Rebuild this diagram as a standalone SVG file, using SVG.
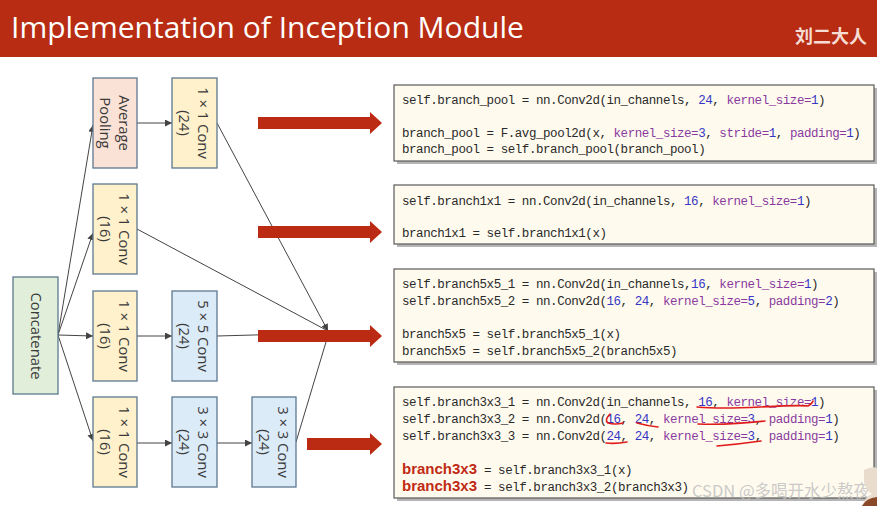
<svg xmlns="http://www.w3.org/2000/svg" width="877" height="506" viewBox="0 0 877 506">
<style>
.node{stroke:#5d7890;stroke-width:1.3}
.pink{fill:#fbe2d6}
.yel{fill:#fff1cc}
.blue{fill:#dcebf8}
.green{fill:#e1efda}
.lbl{font-family:"Open Sans","DejaVu Sans",sans-serif;font-size:14.8px;fill:#3a3a3a;text-anchor:middle}
.con{stroke:#444;stroke-width:1;fill:none}
.code{font-family:"Liberation Mono",monospace;font-size:12.5px;letter-spacing:-0.45px;fill:#2a2a2a;white-space:pre}
.n{fill:#3636c4}
.k{fill:#8a3a9e}
.box{fill:#fffaee;stroke:#5a5a5a;stroke-width:1.2}
.shadow{fill:#b5b5b5}
.big{fill:#bb2b13}
.ul{stroke:#e01b1b;stroke-width:1.6;fill:none;stroke-linecap:round}
.bold{font-family:"Liberation Sans",Arial,sans-serif;font-weight:bold;font-size:15px;fill:#c02a14}
</style>
<defs>
<marker id="ah" viewBox="0 0 10 10" refX="10" refY="5" markerWidth="7" markerHeight="7" markerUnits="userSpaceOnUse" orient="auto">
<path d="M0,0 L10,5 L0,10 Z" fill="#444"/>
</marker>
<path id="bigarrow" d="M0,-6 H112 V-11 L124,0 L112,11 V6 H0 Z"/>
</defs>
<rect width="877" height="506" fill="#ffffff"/>
<g id="title">
<rect x="0" y="0" width="877" height="57" fill="#b72c12"/>
<text x="11" y="38" font-family="'Open Sans','Noto Sans',sans-serif" font-size="30" fill="#ffffff">Implementation of Inception Module</text>
<text x="867" y="43" text-anchor="end" font-family="'Noto Sans CJK SC',sans-serif" font-size="18" font-weight="bold" fill="#f6dcd4">刘二大人</text>
</g>
<g id="connectors">
<line class="con" x1="58" y1="335" x2="93" y2="125" marker-end="url(#ah)"/>
<line class="con" x1="58" y1="335" x2="93" y2="233" marker-end="url(#ah)"/>
<line class="con" x1="58" y1="335" x2="93" y2="336" marker-end="url(#ah)" stroke="#666" stroke-width="1.4"/>
<line class="con" x1="58" y1="335" x2="93" y2="441" marker-end="url(#ah)"/>
<line class="con" x1="137" y1="123" x2="172" y2="123" marker-end="url(#ah)"/>
<line class="con" x1="137" y1="336" x2="172" y2="336" marker-end="url(#ah)"/>
<line class="con" x1="137" y1="443" x2="172" y2="443" marker-end="url(#ah)"/>
<line class="con" x1="217" y1="443" x2="252" y2="443" marker-end="url(#ah)"/>
<line class="con" x1="217" y1="123" x2="328" y2="331" marker-end="url(#ah)"/>
<line class="con" x1="137" y1="229" x2="328" y2="331"/>
<line class="con" x1="217" y1="336" x2="328" y2="333" stroke="#888" stroke-width="1.4"/>
<line class="con" x1="296" y1="442" x2="329" y2="332"/>
</g>
<g id="concatenate">
<rect class="node green" x="13" y="277" width="45" height="117"/>
<text class="lbl" transform="translate(35.5,336) rotate(90)" y="5">Concatenate</text>
</g>
<g id="avgpool">
<rect class="node pink" x="93" y="78" width="44" height="90"/>
<text class="lbl" transform="translate(115,123) rotate(90)"><tspan x="0" y="-4">Average</tspan><tspan x="0" y="15">Pooling</tspan></text>
</g>
<g id="conv1x1_24">
<rect class="node yel" x="172" y="78" width="45" height="90"/>
<text class="lbl" transform="translate(194.5,123) rotate(90)"><tspan x="0" y="-3.5">1 × 1 Conv</tspan><tspan x="0" y="15.5">(24)</tspan></text>
</g>
<g id="conv1x1_16a">
<rect class="node yel" x="93" y="184" width="44" height="90"/>
<text class="lbl" transform="translate(115,229) rotate(90)"><tspan x="0" y="-3.5">1 × 1 Conv</tspan><tspan x="0" y="15.5">(16)</tspan></text>
</g>
<g id="conv1x1_16b">
<rect class="node yel" x="93" y="291" width="44" height="90"/>
<text class="lbl" transform="translate(115,336) rotate(90)"><tspan x="0" y="-3.5">1 × 1 Conv</tspan><tspan x="0" y="15.5">(16)</tspan></text>
</g>
<g id="conv5x5">
<rect class="node blue" x="172" y="291" width="45" height="90"/>
<text class="lbl" transform="translate(194.5,336) rotate(90)"><tspan x="0" y="-3.5">5 × 5 Conv</tspan><tspan x="0" y="15.5">(24)</tspan></text>
</g>
<g id="conv1x1_16c">
<rect class="node yel" x="93" y="397" width="44" height="90"/>
<text class="lbl" transform="translate(115,442) rotate(90)"><tspan x="0" y="-3.5">1 × 1 Conv</tspan><tspan x="0" y="15.5">(16)</tspan></text>
</g>
<g id="conv3x3a">
<rect class="node blue" x="172" y="397" width="45" height="90"/>
<text class="lbl" transform="translate(194.5,442) rotate(90)"><tspan x="0" y="-3.5">3 × 3 Conv</tspan><tspan x="0" y="15.5">(24)</tspan></text>
</g>
<g id="conv3x3b">
<rect class="node blue" x="252" y="397" width="44" height="90"/>
<text class="lbl" transform="translate(274,442) rotate(90)"><tspan x="0" y="-3.5">3 × 3 Conv</tspan><tspan x="0" y="15.5">(24)</tspan></text>
</g>
<g id="bigarrows" class="big">
<use href="#bigarrow" x="258" y="123"/>
<use href="#bigarrow" x="258" y="232"/>
<use href="#bigarrow" x="258" y="336"/>
<path d="M307,438 H370 V433 L382,444 L370,455 V450 H307 Z"/>
</g>
<g id="code1">
<rect class="shadow" x="397" y="88" width="480" height="76"/>
<rect class="box" x="394" y="85" width="480" height="76"/>
<text class="code" x="402" y="104">self.branch_pool = nn.Conv2d(in_channels, <tspan class="n">24</tspan>, <tspan class="k">kernel_size=</tspan><tspan class="n">1</tspan>)</text>
<text class="code" x="402" y="137">branch_pool = F.avg_pool2d(x, <tspan class="k">kernel_size=</tspan><tspan class="n">3</tspan>, <tspan class="k">stride=</tspan><tspan class="n">1</tspan>, <tspan class="k">padding=</tspan><tspan class="n">1</tspan>)</text>
<text class="code" x="402" y="153">branch_pool = self.branch_pool(branch_pool)</text>
</g>
<g id="code2">
<rect class="shadow" x="397" y="188" width="480" height="59"/>
<rect class="box" x="394" y="185" width="480" height="59"/>
<text class="code" x="402" y="205">self.branch1x1 = nn.Conv2d(in_channels, <tspan class="n">16</tspan>, <tspan class="k">kernel_size=</tspan><tspan class="n">1</tspan>)</text>
<text class="code" x="402" y="237">branch1x1 = self.branch1x1(x)</text>
</g>
<g id="code3">
<rect class="shadow" x="397" y="272" width="480" height="93"/>
<rect class="box" x="394" y="269" width="480" height="93"/>
<text class="code" x="402" y="288">self.branch5x5_1 = nn.Conv2d(in_channels,<tspan class="n">16</tspan>, <tspan class="k">kernel_size=</tspan><tspan class="n">1</tspan>)</text>
<text class="code" x="402" y="305">self.branch5x5_2 = nn.Conv2d(<tspan class="n">16</tspan>, <tspan class="n">24</tspan>, <tspan class="k">kernel_size=</tspan><tspan class="n">5</tspan>, <tspan class="k">padding=</tspan><tspan class="n">2</tspan>)</text>
<text class="code" x="402" y="338">branch5x5 = self.branch5x5_1(x)</text>
<text class="code" x="402" y="355">branch5x5 = self.branch5x5_2(branch5x5)</text>
</g>
<g id="code4">
<rect class="shadow" x="397" y="390" width="480" height="111"/>
<rect class="box" x="394" y="387" width="480" height="111"/>
<text class="code" x="402" y="406">self.branch3x3_1 = nn.Conv2d(in_channels, <tspan class="n">16</tspan>, <tspan class="k">kernel_size=</tspan><tspan class="n">1</tspan>)</text>
<text class="code" x="402" y="423">self.branch3x3_2 = nn.Conv2d(<tspan class="n">16</tspan>, <tspan class="n">24</tspan>, <tspan class="k">kernel_size=</tspan><tspan class="n">3</tspan>, <tspan class="k">padding=</tspan><tspan class="n">1</tspan>)</text>
<text class="code" x="402" y="440">self.branch3x3_3 = nn.Conv2d(<tspan class="n">24</tspan>, <tspan class="n">24</tspan>, <tspan class="k">kernel_size=</tspan><tspan class="n">3</tspan>, <tspan class="k">padding=</tspan><tspan class="n">1</tspan>)</text>
<text class="bold" x="402" y="474">branch3x3</text>
<text class="code" x="484" y="474">= self.branch3x3_1(x)</text>
<text class="bold" x="402" y="491">branch3x3</text>
<text class="code" x="484" y="491">= self.branch3x3_2(branch3x3)</text>
<path class="ul" d="M697,407 Q720,409 760,407 T808,406 Q812,404 813,401"/>
<path class="ul" d="M610,414 Q604,420 608,423 Q615,425 623,423"/>
<path class="ul" d="M637,423 Q648,426 658,427"/>
<path class="ul" d="M698,424 Q730,425 765,421"/>
<path class="ul" d="M606,443 Q616,444 627,442"/>
<path class="ul" d="M717,446 Q740,444 761,441"/>
</g>
<g id="watermark">
<text x="692" y="497" font-family="'Noto Sans CJK SC','Noto Sans',sans-serif" font-size="16.5" fill="#c4c4c4" fill-opacity="0.9">CSDN @多喝开水少熬夜</text>
<path d="M864,470 Q872,466 877,468 V506 H862 Q866,496 872,494 Q866,490 864,482 Z" fill="#e9dccd"/>
<path d="M862,506 Q866,498 877,497 V506 Z" fill="#8a4a2a"/>
</g>
</svg>
